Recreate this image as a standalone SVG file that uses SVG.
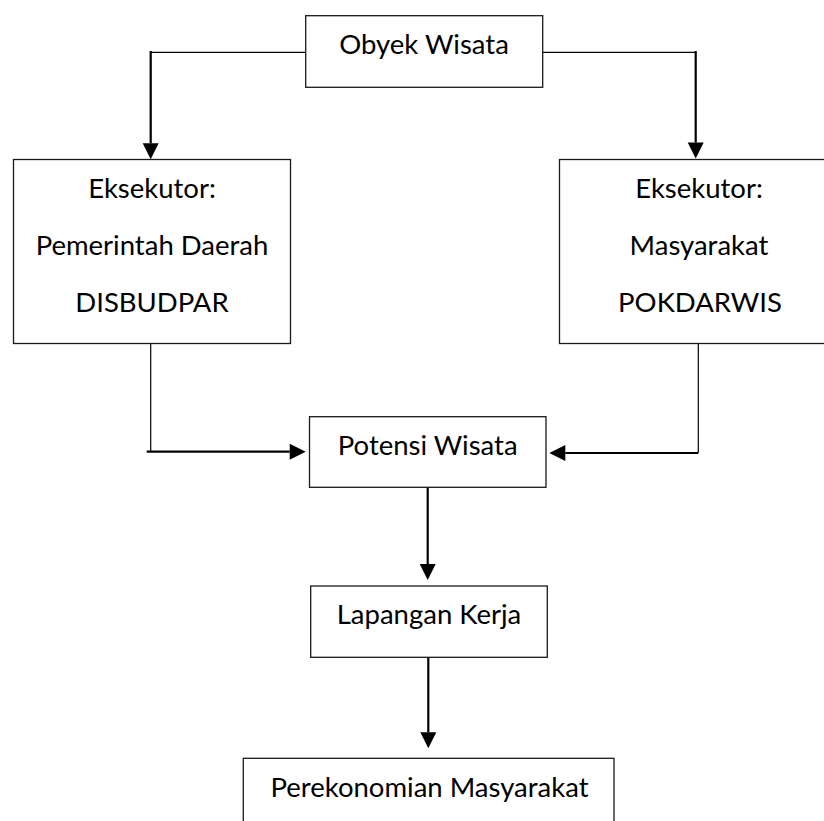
<svg xmlns="http://www.w3.org/2000/svg" width="824" height="821" viewBox="0 0 824 821">
  <style>
    .box { fill: #ffffff; stroke: #1a1a1a; stroke-width: 1.3; }
    .lbl { font-family: Lato, "Liberation Sans", sans-serif; font-size: 27.5px; fill: #000000; text-anchor: middle; }
    .thin { fill: none; stroke: #000000; stroke-width: 1.2; }
    .thick { fill: none; stroke: #000000; stroke-width: 2.2; marker-end: url(#ah); }
  </style>
  <defs>
    <marker id="ah" markerUnits="userSpaceOnUse" markerWidth="17" markerHeight="17" refX="0" refY="8" orient="auto" overflow="visible">
      <path d="M0,0 L16,8 L0,16 Z" fill="#000000"/>
    </marker>
  </defs>
  <rect width="824" height="821" fill="#ffffff"/>

  <g id="connectors">
    <line class="thin" x1="305.7" y1="52.3" x2="150.7" y2="52.3"/>
    <line class="thick" x1="150.7" y1="51" x2="150.7" y2="143.3"/>
    <line class="thin" x1="542.7" y1="52.3" x2="695.7" y2="52.3"/>
    <line class="thick" x1="695.7" y1="51" x2="695.7" y2="142.5"/>
    <line class="thin" x1="150.7" y1="343.3" x2="150.7" y2="451.7"/>
    <line class="thick" x1="146.7" y1="451.7" x2="289.7" y2="451.7"/>
    <line class="thin" x1="698.3" y1="343.3" x2="698.3" y2="453"/>
    <line class="thick" x1="698.3" y1="453" x2="565.3" y2="453"/>
    <line class="thick" x1="427.7" y1="487.3" x2="427.7" y2="564"/>
    <line class="thick" x1="428.3" y1="657.3" x2="428.3" y2="732.3"/>
  </g>

  <g id="obyek-wisata">
    <rect class="box" x="305.7" y="15.7" width="237" height="71.6"/>
    <text class="lbl" x="424" y="54">Obyek Wisata</text>
  </g>

  <g id="eksekutor-pemda">
    <rect class="box" x="13.5" y="159.5" width="277" height="184"/>
    <text class="lbl" x="152" y="198.3">Eksekutor:</text>
    <text class="lbl" x="152" y="255">Pemerintah Daerah</text>
    <text class="lbl" x="152" y="312.3">DISBUDPAR</text>
  </g>

  <g id="eksekutor-masyarakat">
    <rect class="box" x="559.5" y="159.5" width="278" height="184"/>
    <text class="lbl" x="699" y="198.3">Eksekutor:</text>
    <text class="lbl" x="699" y="255">Masyarakat</text>
    <text class="lbl" x="700" y="312.3">POKDARWIS</text>
  </g>

  <g id="potensi-wisata">
    <rect class="box" x="309.5" y="416.7" width="236.5" height="70.6"/>
    <text class="lbl" x="427.7" y="455">Potensi Wisata</text>
  </g>

  <g id="lapangan-kerja">
    <rect class="box" x="310.7" y="586" width="236.6" height="71.3"/>
    <text class="lbl" x="429" y="623.5">Lapangan Kerja</text>
  </g>

  <g id="perekonomian-masyarakat">
    <rect class="box" x="243.3" y="758.3" width="370.7" height="80"/>
    <text class="lbl" x="429.5" y="796.6">Perekonomian Masyarakat</text>
  </g>
</svg>
